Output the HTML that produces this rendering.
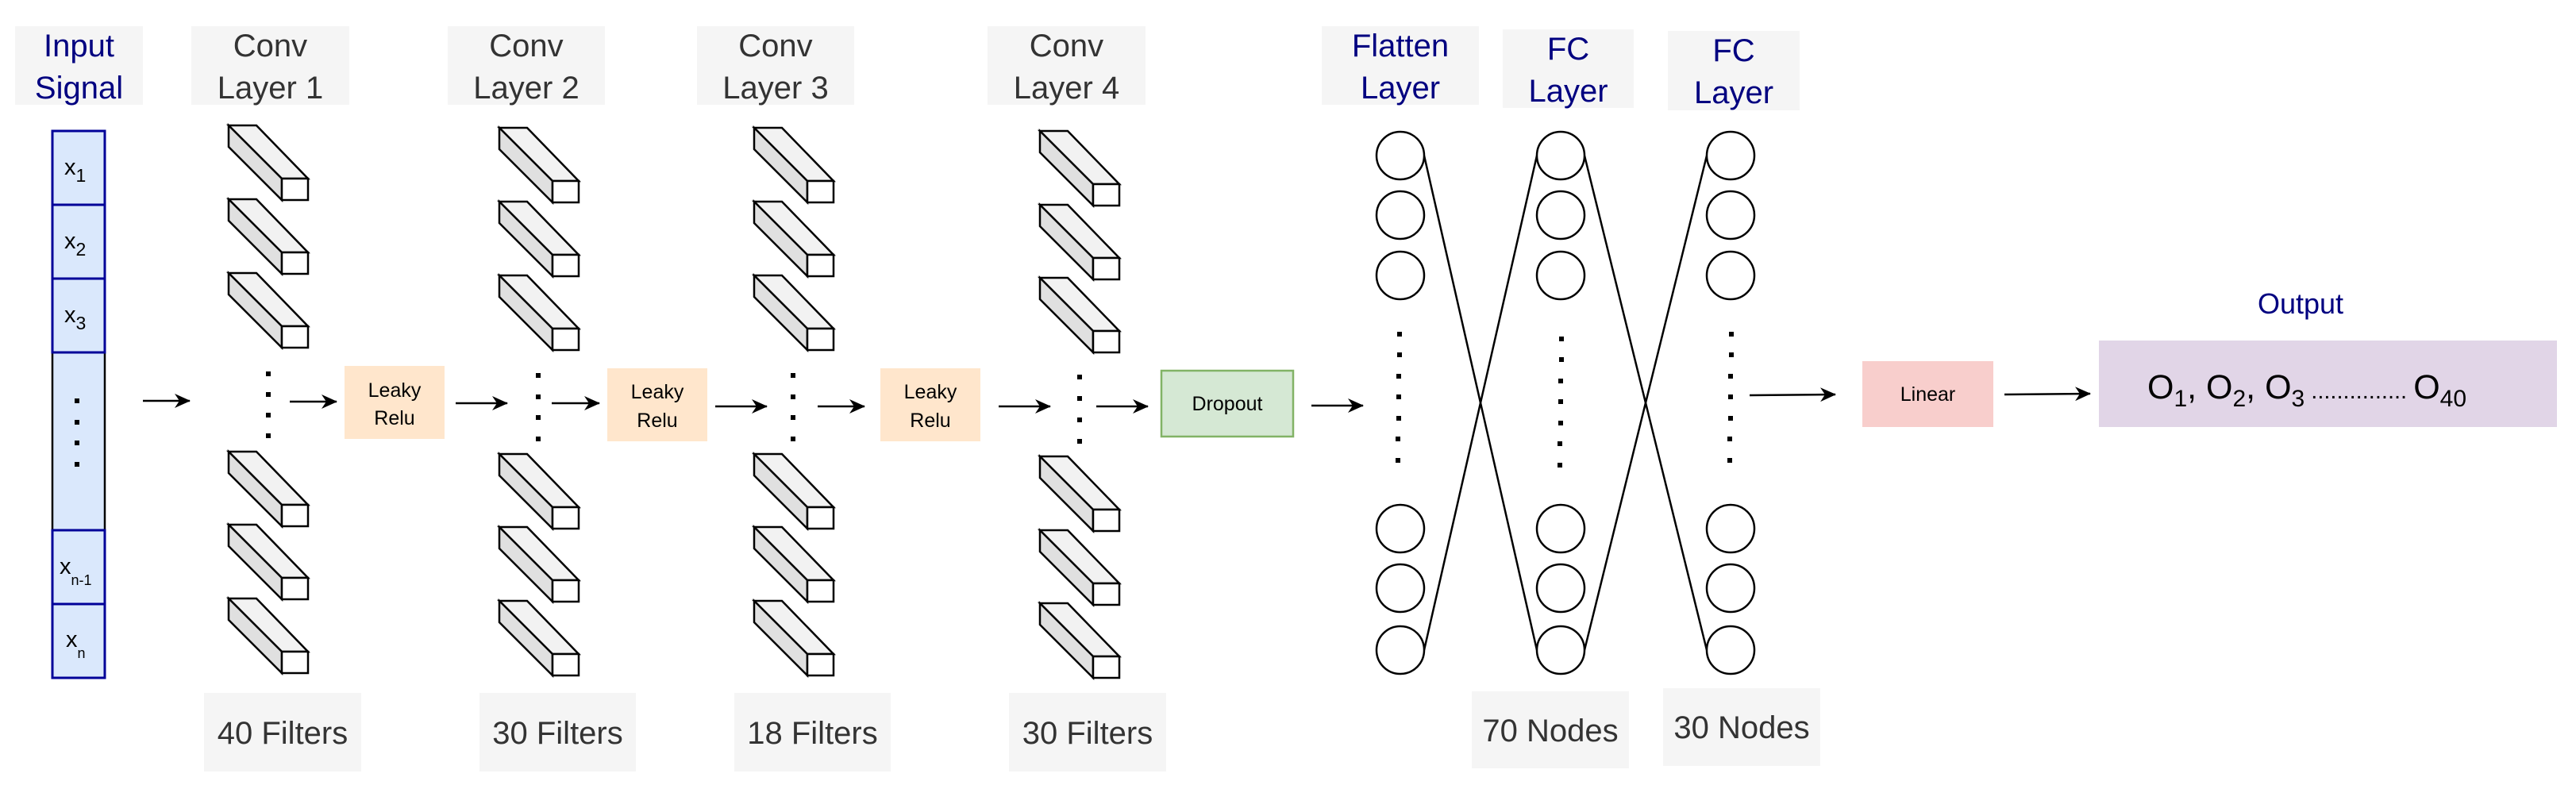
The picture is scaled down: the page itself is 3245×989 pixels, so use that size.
<!DOCTYPE html>
<html><head><meta charset="utf-8"><style>
html,body{margin:0;padding:0;background:#fff;}
svg{display:block;font-family:"Liberation Sans",sans-serif;}
</style></head><body>
<svg width="3245" height="989" viewBox="0 0 3245 989" xmlns="http://www.w3.org/2000/svg">
<defs>
<g id="cub" stroke="#000" stroke-width="2.5" stroke-linejoin="miter">
<polygon points="0,0 35,0 100,67 67,67" fill="#f2f2f2"/>
<polygon points="0,0 67,67 67,94 0,27" fill="#e0e0e0"/>
<rect x="67" y="67" width="33" height="27" fill="#fff"/>
</g>
<marker id="ah" viewBox="0 0 20 18" refX="19" refY="9" markerWidth="20" markerHeight="18" markerUnits="userSpaceOnUse" orient="auto">
<path d="M0,0 L20,9 L0,18 L6,9 Z" fill="#000"/>
</marker>
</defs>

<g fill="#f5f5f5">
<rect x="19" y="33" width="161" height="99"/>
<rect x="241" y="33" width="199" height="99"/>
<rect x="564" y="33" width="198" height="99"/>
<rect x="878" y="33" width="198" height="99"/>
<rect x="1244" y="33" width="199" height="99"/>
<rect x="1665" y="33" width="198" height="99"/>
<rect x="1893" y="37" width="165" height="99"/>
<rect x="2101" y="39" width="166" height="100"/>
<rect x="257" y="873" width="198" height="99"/>
<rect x="604" y="873" width="197" height="99"/>
<rect x="925" y="873" width="197" height="99"/>
<rect x="1271" y="873" width="198" height="99"/>
<rect x="1854" y="871" width="198" height="97"/>
<rect x="2095" y="867" width="198" height="98"/>
</g>
<g font-size="40" text-anchor="middle" fill="#000080">
<text x="99.5" y="71">Input</text><text x="99.5" y="124">Signal</text>
<text x="1764" y="71">Flatten</text><text x="1764" y="124">Layer</text>
<text x="1975.5" y="75">FC</text><text x="1975.5" y="128">Layer</text>
<text x="2184" y="77">FC</text><text x="2184" y="130">Layer</text>
</g>
<g font-size="40" text-anchor="middle" fill="#333">
<text x="340.5" y="71">Conv</text><text x="340.5" y="124">Layer 1</text>
<text x="663" y="71">Conv</text><text x="663" y="124">Layer 2</text>
<text x="977" y="71">Conv</text><text x="977" y="124">Layer 3</text>
<text x="1343.5" y="71">Conv</text><text x="1343.5" y="124">Layer 4</text>
<text x="356" y="937">40 Filters</text>
<text x="702.5" y="937">30 Filters</text>
<text x="1023.5" y="937">18 Filters</text>
<text x="1370" y="937">30 Filters</text>
<text x="1953" y="934">70 Nodes</text>
<text x="2194" y="930">30 Nodes</text>
</g>

<rect x="66" y="444" width="66" height="224" fill="#dae8fc" stroke="#000" stroke-width="2.5"/>
<g fill="#dae8fc" stroke="#000099" stroke-width="3">
<rect x="66" y="165" width="66" height="93"/>
<rect x="66" y="258" width="66" height="93"/>
<rect x="66" y="351" width="66" height="93"/>
<rect x="66" y="668" width="66" height="93"/>
<rect x="66" y="761" width="66" height="93"/>
</g>
<g fill="#000">
<rect x="94" y="502" width="6" height="6"/><rect x="94" y="529" width="6" height="6"/>
<rect x="94" y="555" width="6" height="6"/><rect x="94" y="582" width="6" height="6"/>
</g>
<g font-size="29" fill="#000">
<text x="81" y="220">x<tspan font-size="23" dy="9">1</tspan></text>
<text x="81" y="313">x<tspan font-size="23" dy="9">2</tspan></text>
<text x="81" y="406">x<tspan font-size="23" dy="9">3</tspan></text>
<text x="75" y="723">x<tspan font-size="18" dy="14">n-1</tspan></text>
<text x="83" y="815">x<tspan font-size="18" dy="14">n</tspan></text>
</g>

<g>
<use href="#cub" x="288" y="158"/><use href="#cub" x="288" y="251"/><use href="#cub" x="288" y="344"/>
<use href="#cub" x="288" y="569"/><use href="#cub" x="288" y="661"/><use href="#cub" x="288" y="754"/>
<use href="#cub" x="629" y="161"/><use href="#cub" x="629" y="254"/><use href="#cub" x="629" y="347"/>
<use href="#cub" x="629" y="572"/><use href="#cub" x="629" y="664"/><use href="#cub" x="629" y="757"/>
<use href="#cub" x="950" y="161"/><use href="#cub" x="950" y="254"/><use href="#cub" x="950" y="347"/>
<use href="#cub" x="950" y="572"/><use href="#cub" x="950" y="664"/><use href="#cub" x="950" y="757"/>
<use href="#cub" x="1310" y="165"/><use href="#cub" x="1310" y="258"/><use href="#cub" x="1310" y="350"/>
<use href="#cub" x="1310" y="575"/><use href="#cub" x="1310" y="668"/><use href="#cub" x="1310" y="760"/>
</g>
<g fill="#000">
<rect x="335" y="468" width="6" height="6"/><rect x="335" y="494" width="6" height="6"/><rect x="335" y="520" width="6" height="6"/><rect x="335" y="546" width="6" height="6"/>
<rect x="675" y="470" width="6" height="6"/><rect x="675" y="497" width="6" height="6"/><rect x="675" y="523" width="6" height="6"/><rect x="675" y="550" width="6" height="6"/>
<rect x="996" y="470" width="6" height="6"/><rect x="996" y="497" width="6" height="6"/><rect x="996" y="523" width="6" height="6"/><rect x="996" y="550" width="6" height="6"/>
<rect x="1357" y="472" width="6" height="6"/><rect x="1357" y="499" width="6" height="6"/><rect x="1357" y="526" width="6" height="6"/><rect x="1357" y="553" width="6" height="6"/>
</g>

<rect x="434" y="461" width="126" height="92" fill="#ffe6cc"/>
<rect x="765" y="464" width="126" height="92" fill="#ffe6cc"/>
<rect x="1109" y="464" width="126" height="92" fill="#ffe6cc"/>
<rect x="1463" y="467" width="166" height="83" fill="#d5e8d4" stroke="#82b366" stroke-width="2.5"/>
<rect x="2346" y="455" width="165" height="83" fill="#f8cecc"/>
<rect x="2644" y="429" width="577" height="109" fill="#e1d5e7"/>
<g font-size="25" text-anchor="middle" fill="#000">
<text x="497" y="500">Leaky</text><text x="497" y="535">Relu</text>
<text x="828" y="502">Leaky</text><text x="828" y="538">Relu</text>
<text x="1172" y="502">Leaky</text><text x="1172" y="538">Relu</text>
<text x="1546" y="517">Dropout</text>
<text x="2428.5" y="505">Linear</text>
</g>
<text x="2898" y="395" font-size="36" text-anchor="middle" fill="#000080">Output</text>
<text x="2705" y="502" font-size="43" fill="#000">O<tspan font-size="30" dy="10">1</tspan><tspan dy="-10">, O</tspan><tspan font-size="30" dy="10">2</tspan><tspan dy="-10">, O</tspan><tspan font-size="30" dy="10">3</tspan><tspan dy="-10" font-size="29"> ...............  </tspan><tspan dy="0">O</tspan><tspan font-size="30" dy="10">40</tspan></text>

<g stroke="#000" stroke-width="2.5" marker-end="url(#ah)">
<line x1="180" y1="505" x2="239" y2="505"/>
<line x1="365" y1="506" x2="424" y2="506"/>
<line x1="574" y1="508" x2="639" y2="508"/>
<line x1="695" y1="508" x2="755" y2="508"/>
<line x1="901" y1="512" x2="966" y2="512"/>
<line x1="1030" y1="512" x2="1089" y2="512"/>
<line x1="1258" y1="512" x2="1323" y2="512"/>
<line x1="1381" y1="512" x2="1446" y2="512"/>
<line x1="1652" y1="511" x2="1717" y2="511"/>
<line x1="2204" y1="498" x2="2312" y2="497"/>
<line x1="2525" y1="497" x2="2633" y2="496"/>
</g>

<g stroke="#000" stroke-width="2.5">
<line x1="1794" y1="196" x2="1936" y2="819"/>
<line x1="1794" y1="819" x2="1936" y2="196"/>
<line x1="1996" y1="196" x2="2150" y2="819"/>
<line x1="1996" y1="819" x2="2150" y2="196"/>
</g>
<g fill="#fff" stroke="#000" stroke-width="2.5">
<circle cx="1764" cy="196" r="30"/><circle cx="1764" cy="271" r="30"/><circle cx="1764" cy="347" r="30"/>
<circle cx="1764" cy="666" r="30"/><circle cx="1764" cy="741" r="30"/><circle cx="1764" cy="819" r="30"/>
<circle cx="1966" cy="196" r="30"/><circle cx="1966" cy="271" r="30"/><circle cx="1966" cy="347" r="30"/>
<circle cx="1966" cy="666" r="30"/><circle cx="1966" cy="741" r="30"/><circle cx="1966" cy="819" r="30"/>
<circle cx="2180" cy="196" r="30"/><circle cx="2180" cy="271" r="30"/><circle cx="2180" cy="347" r="30"/>
<circle cx="2180" cy="666" r="30"/><circle cx="2180" cy="741" r="30"/><circle cx="2180" cy="819" r="30"/>
</g>
<g fill="#000">
<rect x="1760" y="418" width="6" height="6"/><rect x="1760" y="444" width="6" height="6"/><rect x="1759" y="471" width="6" height="6"/><rect x="1759" y="497" width="6" height="6"/><rect x="1759" y="524" width="6" height="6"/><rect x="1758" y="550" width="6" height="6"/><rect x="1758" y="577" width="6" height="6"/>
<rect x="1964" y="424" width="6" height="6"/><rect x="1964" y="450" width="6" height="6"/><rect x="1963" y="477" width="6" height="6"/><rect x="1963" y="503" width="6" height="6"/><rect x="1963" y="530" width="6" height="6"/><rect x="1962" y="556" width="6" height="6"/><rect x="1962" y="583" width="6" height="6"/>
<rect x="2178" y="418" width="6" height="6"/><rect x="2178" y="444" width="6" height="6"/><rect x="2177" y="471" width="6" height="6"/><rect x="2177" y="497" width="6" height="6"/><rect x="2177" y="524" width="6" height="6"/><rect x="2176" y="550" width="6" height="6"/><rect x="2176" y="577" width="6" height="6"/>
</g>
</svg>
</body></html>
